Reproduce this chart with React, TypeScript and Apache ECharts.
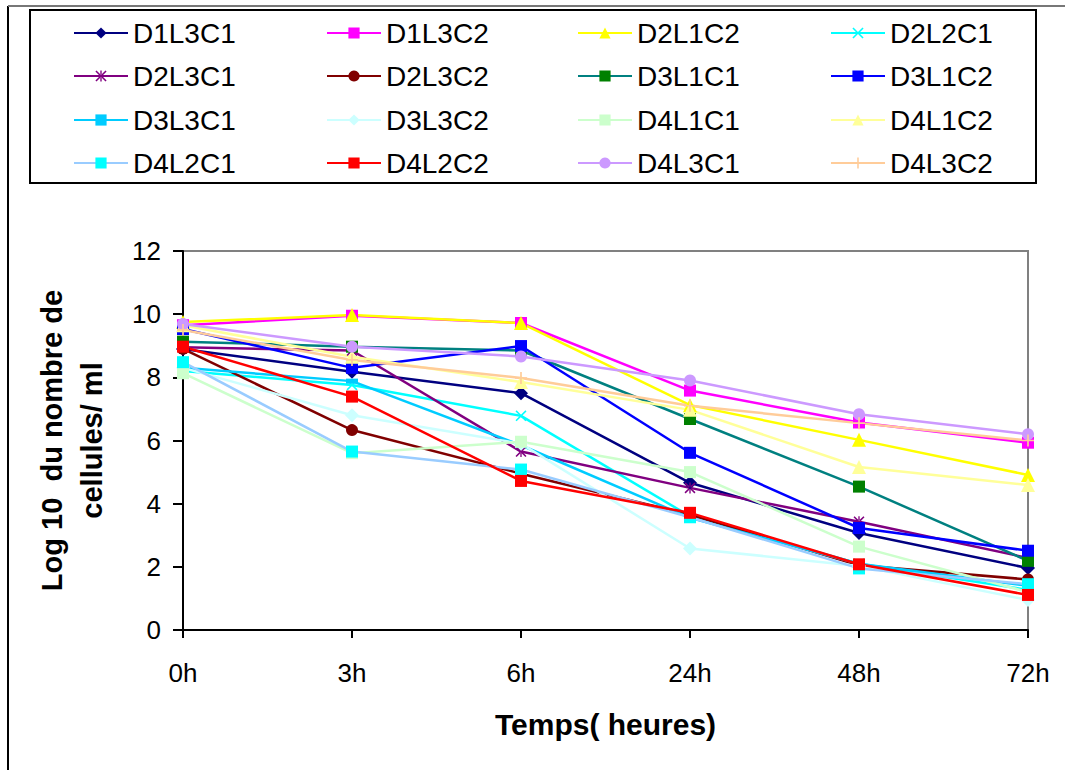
import React, { useEffect, useRef } from "react";
import * as echarts from "echarts";

const categories = ["0h", "3h", "6h", "24h", "48h", "72h"];
const yTicks = { min: 0, max: 12, interval: 2 };

const D1L3C1 = [8.9, 8.18, 7.5, 4.66, 3.07, 1.96];
const D1L3C2 = [9.65, 9.95, 9.72, 7.58, 6.57, 5.93];
const D2L1C2 = [9.75, 9.97, 9.72, 7.12, 6.02, 4.91];
const D2L2C1 = [8.2, 7.76, 6.78, 3.6, 2.1, 1.27];
const D2L3C1 = [8.95, 8.85, 5.65, 4.5, 3.43, 2.28];
const D2L3C2 = [8.9, 6.33, 4.95, 3.65, 2.05, 1.6];
const D3L1C1 = [9.13, 8.97, 8.85, 6.68, 4.54, 2.19];
const D3L1C2 = [9.53, 8.3, 8.99, 5.61, 3.23, 2.51];
const D3L3C1 = [8.3, 7.88, 5.85, 3.55, 2.1, 1.4];
const D3L3C2 = [8.3, 6.8, 5.9, 2.58, 2.03, 0.95];
const D4L1C1 = [8.13, 5.6, 5.96, 5.0, 2.64, 1.2];
const D4L1C2 = [9.65, 8.65, 7.85, 6.97, 5.16, 4.59];
const D4L2C1 = [8.48, 5.65, 5.08, 3.57, 1.95, 1.45];
const D4L2C2 = [8.97, 7.39, 4.72, 3.71, 2.08, 1.11];
const D4L3C1 = [9.69, 8.97, 8.66, 7.9, 6.83, 6.2];
const D4L3C2 = [9.5, 8.55, 7.98, 7.1, 6.55, 6.0];

const SYM_X = "path://M0,1 L1,0 L5,4 L9,0 L10,1 L6,5 L10,9 L9,10 L5,6 L1,10 L0,9 L4,5 Z";
const SYM_PLUS = "path://M4.3,0 H5.7 V4.3 H10 V5.7 H5.7 V10 H4.3 V5.7 H0 V4.3 H4.3 Z";
const SYM_STAR = "path://M0,1 L1,0 L5,4 L9,0 L10,1 L6,5 L10,9 L9,10 L5,6 L1,10 L0,9 L4,5 Z M4.4,0 L4.4,10 L5.6,10 L5.6,0 Z";
const SYM_DASH = "path://M0,0 H10 V4 H0 Z";

const seriesDefs = [
  { name: "D1L3C1", data: D1L3C1, line: "#000080", mark: "#000080", symbol: "diamond", size: 14 },
  { name: "D1L3C2", data: D1L3C2, line: "#FF00FF", mark: "#FF00FF", symbol: "rect", size: 12 },
  { name: "D2L1C2", data: D2L1C2, line: "#FFFF00", mark: "#FFFF00", symbol: "triangle", size: 14 },
  { name: "D2L2C1", data: D2L2C1, line: "#00FFFF", mark: "#00FFFF", symbol: SYM_X, size: 11 },
  { name: "D2L3C1", data: D2L3C1, line: "#800080", mark: "#800080", symbol: SYM_STAR, size: 11 },
  { name: "D2L3C2", data: D2L3C2, line: "#800000", mark: "#800000", symbol: "circle", size: 12 },
  { name: "D3L1C1", data: D3L1C1, line: "#008080", mark: "#008000", symbol: "rect", size: 12 },
  { name: "D3L1C2", data: D3L1C2, line: "#0000FF", mark: "#0000FF", symbol: "rect", size: 12 },
  { name: "D3L3C1", data: D3L3C1, line: "#00CCFF", mark: "#00CCFF", symbol: SYM_DASH, size: [12, 5] },
  { name: "D3L3C2", data: D3L3C2, line: "#CCFFFF", mark: "#CCFFFF", symbol: "diamond", size: 14 },
  { name: "D4L1C1", data: D4L1C1, line: "#CCFFCC", mark: "#CCFFCC", symbol: "rect", size: 12 },
  { name: "D4L1C2", data: D4L1C2, line: "#FFFF99", mark: "#FFFF99", symbol: "triangle", size: 14 },
  { name: "D4L2C1", data: D4L2C1, line: "#99CCFF", mark: "#00FFFF", symbol: "rect", size: 12 },
  { name: "D4L2C2", data: D4L2C2, line: "#FF0000", mark: "#FF0000", symbol: "rect", size: 12 },
  { name: "D4L3C1", data: D4L3C1, line: "#CC99FF", mark: "#CC99FF", symbol: "circle", size: 12 },
  { name: "D4L3C2", data: D4L3C2, line: "#FFCC99", mark: "#FFCC99", symbol: SYM_PLUS, size: 12 },
];

const FONT = "'Liberation Sans', Arial, sans-serif";
const legendColLeft = [73, 326, 577, 830];
const legendRowCenter = [33, 76, 120, 163];

export default function App() {
  const ref = useRef<HTMLDivElement>(null);
  useEffect(() => {
    if (!ref.current) return;
    const chart = echarts.init(ref.current, undefined, { renderer: "svg" });
    const legends = seriesDefs.map((s, i) => {
      const row = Math.floor(i / 4);
      const col = i % 4;
      return {
        data: [s.name],
        left: legendColLeft[col],
        top: legendRowCenter[row] - 15,
        padding: 0,
        itemWidth: 54,
        itemHeight: 14,
        selectedMode: false,
        textStyle: { fontSize: 28, fontFamily: FONT, color: "#000", lineHeight: 30 },
      };
    });
    chart.setOption({
      animation: false,
      backgroundColor: "#fff",
      textStyle: { fontFamily: FONT },
      legend: legends,
      grid: {
        left: 183,
        right: 37,
        top: 251,
        bottom: 140,
        show: true,
        borderColor: "#808080",
        borderWidth: 2,
        containLabel: false,
      },
      xAxis: {
        type: "category",
        data: categories,
        boundaryGap: false,
        name: "Temps( heures)",
        nameLocation: "middle",
        nameGap: 79,
        nameTextStyle: { fontSize: 30, fontWeight: "bold", color: "#000", fontFamily: FONT },
        axisLine: { lineStyle: { color: "#000", width: 2 } },
        axisTick: { show: true, length: 8, lineStyle: { color: "#000", width: 2 } },
        axisLabel: { fontSize: 26, color: "#000", margin: 30, fontFamily: FONT },
        splitLine: { show: false },
      },
      yAxis: {
        type: "value",
        min: yTicks.min,
        max: yTicks.max,
        interval: yTicks.interval,
        name: "Log 10  du nombre de\ncellules/ ml",
        nameLocation: "middle",
        nameGap: 71,
        nameTextStyle: { fontSize: 29, fontWeight: "bold", color: "#000", fontFamily: FONT, lineHeight: 40 },
        axisLine: { show: true, lineStyle: { color: "#000", width: 2 } },
        axisTick: { show: true, length: 10, lineStyle: { color: "#000", width: 2 } },
        axisLabel: { fontSize: 26, color: "#000", margin: 22, fontFamily: FONT },
        splitLine: { show: false },
      },
      graphic: [
        { type: "line", shape: { x1: 8, y1: 6, x2: 8, y2: 780 }, style: { stroke: "#000", lineWidth: 2 } },
        { type: "line", shape: { x1: 8, y1: 6, x2: 1070, y2: 6 }, style: { stroke: "#777", lineWidth: 2 } },
        { type: "rect", shape: { x: 30, y: 10, width: 1006, height: 173 }, style: { fill: "none", stroke: "#000", lineWidth: 2 } },
      ],
      series: seriesDefs.map((s) => ({
        name: s.name,
        type: "line",
        data: s.data,
        symbol: s.symbol,
        symbolSize: s.size,
        showAllSymbol: true,
        lineStyle: { color: s.line, width: 2.5 },
        itemStyle: { color: s.mark, borderWidth: 0 },
        emphasis: { disabled: true },
      })),
    });
    return () => chart.dispose();
  }, []);
  return (
    <div
      ref={ref}
      style={{ position: "fixed", left: 0, top: 0, width: 1065, height: 770, background: "#fff" }}
    />
  );
}
